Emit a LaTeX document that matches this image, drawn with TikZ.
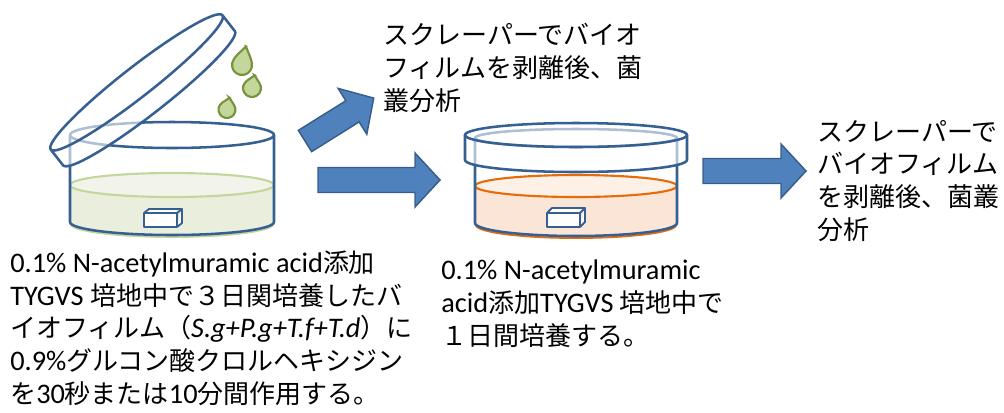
\documentclass[tikz,border=0pt]{standalone}
\usepackage{fontspec}
\setmainfont{Carlito}[Scale=1.09]
\newfontfamily\jp{Noto Sans CJK JP}
\usetikzlibrary{positioning}

\definecolor{dishblue}{RGB}{55,96,146}
\definecolor{agarfill}{RGB}{233,239,220}
\definecolor{agartop}{RGB}{242,244,236}
\definecolor{agaredge}{RGB}{195,214,155}
\definecolor{dropfill}{RGB}{195,214,155}
\definecolor{dropedge}{RGB}{119,147,60}
\definecolor{brothfill}{RGB}{251,229,214}
\definecolor{brothtop}{RGB}{253,240,231}
\definecolor{brothedge}{RGB}{228,108,10}
\definecolor{arrowfill}{RGB}{79,129,189}
\definecolor{arrowedge}{RGB}{56,93,138}

\tikzset{
  dish/.style={draw=dishblue, line width=1.9pt, line join=round},
  lidglass/.style={dish, fill=white, fill opacity=0.6},
  blockarrow/.style={draw=arrowedge, fill=arrowfill, line width=1.1pt},
  droplet/.style={draw=dropedge, fill=dropfill, line width=1.6pt},
  txt/.style={anchor=base west, align=left, inner sep=0pt,
    font=\fontsize{19.5}{24.4}\selectfont},
  jptxt/.style={txt, font=\fontsize{19.5}{24.4}\selectfont\jp},
}

% block arrow: tail x, tail y, angle, length
\newcommand{\blockarrow}[4]{%
  \draw[blockarrow, shift={(#1,#2)}, rotate=#3]
    (0,-12.5) -- (#4-25,-12.5) -- (#4-25,-27) -- (#4,0)
    -- (#4-25,27) -- (#4-25,12.5) -- (0,12.5) -- cycle;}
% drop: centre x, centre y, radius, tip height
\newcommand{\drop}[4]{%
  \draw[droplet, rotate around={-12:(#1,#2)}]
    (#1,#2-#4) .. controls (#1+0.4*#3,#2-0.65*#4) and (#1+#3,#2-0.6*#3) .. (#1+#3,#2)
    arc[start angle=0, end angle=180, radius=#3]
    .. controls (#1-#3,#2-0.6*#3) and (#1-0.4*#3,#2-0.65*#4) .. cycle;}
% small specimen block: front left x, front top y, depth dx, depth dy
\newcommand{\specimen}[4]{%
  \draw[dish, line width=1.4pt, fill=white]
    (#1,#2) rectangle (#1+33,#2+14)
    (#1,#2) -- (#1+#3,#2-#4) -- (#1+33+#3,#2-#4) -- (#1+33,#2)
    (#1+33+#3,#2-#4) -- (#1+33+#3,#2+14-#4) -- (#1+33,#2+14);}

\begin{document}
\begin{tikzpicture}[x=0.75pt,y=-0.75pt]
\useasboundingbox (0,0) rectangle (1004,412);

%% dish 1 : biofilm, lid lifted
\fill[agarfill] (70,185) -- (70,222) arc[start angle=180,end angle=0,x radius=102,y radius=13]
  -- (274,185) arc[start angle=0,end angle=-180,x radius=102,y radius=12] -- cycle;
\draw[agaredge, line width=1.4pt] (71,224) arc[start angle=180,end angle=0,x radius=101,y radius=13];
\filldraw[fill=agartop, draw=agaredge, line width=1.6pt] (172,185) ellipse[x radius=102, y radius=12];
\draw[dish] (70,135) -- (70,222) arc[start angle=180,end angle=0,x radius=102,y radius=13] -- (274,135);
\draw[dish] (172,135) ellipse[x radius=102, y radius=13];
\specimen{144}{213}{5}{4}
\begin{scope}[shift={(136.6,82.4)}, rotate=38]
  \filldraw[lidglass] (-109,0) arc[start angle=180,end angle=360,x radius=109,y radius=15]
    -- (109,20) arc[start angle=0,end angle=180,x radius=109,y radius=15] -- cycle;
  \draw[dish] (109,0) arc[start angle=0,end angle=180,x radius=109,y radius=15];
\end{scope}
\drop{242}{65}{10}{19}
\drop{252}{88}{9}{13}
\drop{227}{109.5}{8.5}{12}

%% arrows
\blockarrow{305}{141}{32}{81}
\blockarrow{318}{180}{0}{122}
\blockarrow{703}{171}{0}{103}

%% dish 2 : culture in broth
\fill[brothfill] (475,186) -- (475,223) arc[start angle=180,end angle=0,x radius=101,y radius=13]
  -- (677,186) arc[start angle=0,end angle=-180,x radius=101,y radius=11] -- cycle;
\draw[brothedge, line width=1.4pt] (476,225) arc[start angle=180,end angle=0,x radius=100,y radius=13];
\filldraw[fill=brothtop, draw=brothedge, line width=1.6pt] (576,186) ellipse[x radius=101, y radius=11];
\draw[dish] (475,138) -- (475,223) arc[start angle=180,end angle=0,x radius=101,y radius=13] -- (677,138);
\draw[dish] (576,138) ellipse[x radius=101, y radius=9];
\specimen{547}{213}{5}{5}
\filldraw[lidglass] (465,135) -- (465,160) arc[start angle=180,end angle=0,x radius=111,y radius=12]
  -- (687,135) arc[start angle=0,end angle=-180,x radius=111,y radius=12] -- cycle;
\draw[dish] (687,135) arc[start angle=0,end angle=180,x radius=111,y radius=12];

%% texts (anchored at the baseline of the last line)
\node[txt] (biofilm) at (10,403) {0.1\% N-acetylmuramic acid{\jp 添加}\\
  TYGVS {\jp 培地中で３日関培養したバ}\\
  {\jp イオフィルム（}\textit{S.g+P.g+T.f+T.d}{\jp ）に}\\
  0.9\%{\jp グルコン酸クロルヘキシジン}\\
  {\jp を}30{\jp 秒または}10{\jp 分間作用する。}};
\node[txt] (culture) at (441,345) {0.1\% N-acetylmuramic\\
  acid{\jp 添加}TYGVS {\jp 培地中で}\\
  {\jp １日間培養する。}};
\node[jptxt] (scrape1) at (383,110) {スクレーパーでバイオ\\
  フィルムを剥離後、菌\\
  叢分析};
\node[jptxt] (scrape2) at (817,239) {スクレーパーで\\
  バイオフィルム\\
  を剥離後、菌叢\\
  分析};
\end{tikzpicture}
\end{document}
